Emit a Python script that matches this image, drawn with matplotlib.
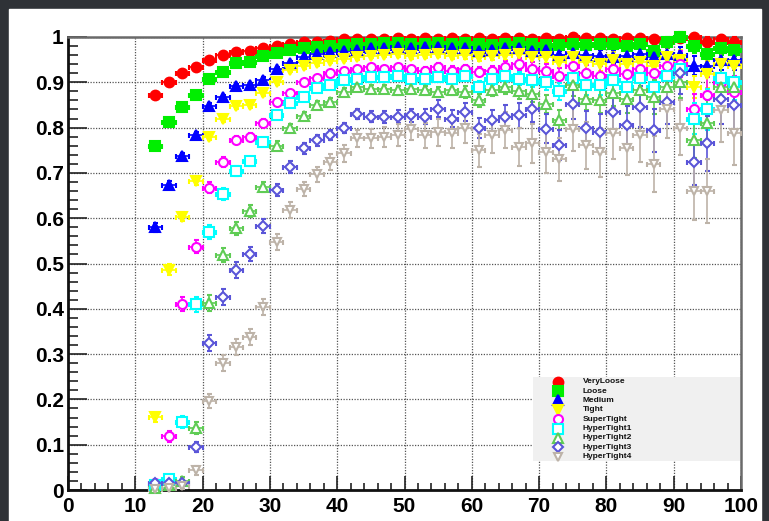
import numpy as np
import matplotlib.pyplot as plt
from matplotlib.patches import Rectangle
from matplotlib.ticker import MultipleLocator

plt.rcParams['font.family'] = ['Liberation Sans', 'DejaVu Sans']
plt.rcParams['font.weight'] = 'bold'

# bin centres, 2 units wide
pt = np.arange(13, 100, 2)

eff_veryloose = [.872, .900, .921, .934, .949, .960, .967, .969, .975, .980, .985,
                 .988, .990, .992, .995, .995, .996, .996, .997, .996, .997, .996,
                 .997, .996, .998, .995, .997, .998, .996, .998, .996, .999, .997,
                 .998, .996, .997, .998, .995, .990, .998, 1.0, .990, .995, .990]
eff_loose = [.759, .812, .846, .872, .907, .923, .943, .945, .958, .965, .972,
             .975, .978, .980, .983, .985, .985, .986, .987, .985, .985, .986,
             .984, .987, .985, .982, .984, .986, .984, .983, .982, .985, .983,
             .985, .984, .980, .985, .970, .988, .999, .980, .962, .975, .972]
eff_medium = [.580, .673, .737, .784, .848, .868, .892, .894, .906, .930, .942,
              .956, .963, .966, .970, .972, .975, .976, .977, .975, .977, .978,
              .976, .975, .970, .972, .975, .975, .970, .972, .960, .965, .960,
              .958, .955, .958, .962, .955, .963, .960, .937, .937, .949, .950]
eff_tight = [.161, .486, .603, .682, .780, .820, .848, .850, .876, .900, .928,
             .935, .942, .948, .952, .955, .958, .960, .962, .958, .960, .962,
             .958, .960, .955, .958, .960, .962, .955, .955, .945, .955, .945,
             .940, .950, .940, .945, .935, .955, .950, .890, .918, .940, .935]
eff_supertight = [.015, .119, .410, .537, .667, .724, .773, .780, .810, .857, .876,
                  .900, .909, .920, .926, .930, .934, .930, .934, .930, .926, .934,
                  .926, .930, .923, .926, .934, .940, .930, .925, .915, .935, .920,
                  .915, .930, .918, .930, .920, .935, .940, .842, .871, .900, .879]
eff_hypertight1 = [.010, .025, .150, .410, .570, .653, .705, .726, .768, .828, .854,
                   .868, .887, .894, .904, .908, .912, .912, .915, .908, .908, .912,
                   .908, .915, .890, .908, .915, .908, .905, .900, .880, .910, .895,
                   .895, .905, .890, .910, .890, .915, .930, .820, .840, .910, .900]
eff_hypertight2 = [.005, .010, .020, .137, .413, .519, .578, .616, .669, .760, .800,
                   .826, .850, .857, .879, .890, .886, .886, .882, .886, .882, .879,
                   .884, .879, .860, .884, .890, .880, .875, .853, .816, .893, .864,
                   .860, .877, .864, .882, .868, .890, .900, .772, .810, .890, .890]
eff_hypertight3 = [.015, .015, .015, .095, .325, .426, .486, .521, .583, .662, .713,
                   .754, .772, .783, .800, .829, .824, .824, .824, .827, .824, .842,
                   .820, .835, .800, .816, .824, .827, .842, .798, .761, .853, .800,
                   .790, .835, .805, .846, .794, .857, .920, .724, .765, .864, .850]
eff_hypertight4 = [.003, .005, .008, .044, .196, .280, .316, .338, .404, .547, .618,
                   .665, .697, .724, .743, .776, .776, .780, .783, .798, .783, .790,
                   .787, .800, .750, .783, .794, .757, .765, .746, .730, .798, .761,
                   .746, .787, .754, .783, .719, .842, .800, .660, .660, .838, .787]

err_veryloose = [.006, .005, .005, .004, .004, .004, .003, .003, .003, .003, .003,
                 .002, .002, .002, .002, .002, .002, .002, .002, .002, .002, .003,
                 .003, .003, .003, .003, .004, .004, .004, .004, .004, .005, .005,
                 .005, .005, .006, .006, .007, .008, .008, .006, .010, .010, .010]
err_loose = [.008, .007, .006, .005, .005, .004, .004, .004, .003, .003, .003,
             .003, .003, .003, .003, .003, .003, .003, .003, .003, .004, .004,
             .004, .004, .005, .005, .005, .006, .006, .006, .007, .007, .008,
             .008, .009, .010, .010, .012, .012, .012, .015, .015, .015, .015]
err_medium = [.010, .009, .008, .007, .006, .005, .005, .005, .005, .004, .004,
              .004, .004, .004, .004, .004, .004, .004, .005, .005, .005, .005,
              .006, .006, .007, .007, .008, .008, .009, .010, .010, .012, .012,
              .013, .014, .015, .016, .018, .020, .018, .020, .025, .022, .022]
err_tight = [.010, .012, .010, .009, .008, .007, .007, .006, .006, .005, .005,
             .005, .005, .005, .005, .005, .005, .005, .006, .006, .006, .007,
             .007, .008, .008, .009, .010, .010, .011, .012, .013, .014, .015,
             .016, .017, .018, .020, .022, .024, .022, .025, .030, .028, .028]
err_supertight = [.005, .012, .015, .014, .012, .010, .009, .008, .008, .007, .007,
                  .006, .006, .006, .006, .006, .006, .007, .007, .007, .008, .008,
                  .009, .009, .010, .011, .012, .013, .014, .015, .016, .018, .019,
                  .020, .022, .024, .026, .028, .030, .028, .032, .040, .035, .035]
err_hypertight1 = [.005, .008, .014, .016, .015, .013, .011, .010, .009, .008, .008,
                   .007, .007, .007, .007, .007, .007, .008, .008, .008, .009, .009,
                   .010, .011, .012, .013, .014, .015, .016, .017, .019, .020, .022,
                   .023, .025, .027, .030, .032, .034, .030, .035, .045, .040, .040]
err_hypertight2 = [.004, .005, .008, .014, .017, .016, .014, .013, .012, .010, .009,
                   .009, .008, .008, .008, .008, .008, .009, .009, .010, .010, .011,
                   .012, .013, .014, .015, .016, .017, .019, .020, .022, .024, .026,
                   .028, .030, .032, .035, .038, .040, .035, .040, .050, .045, .045]
err_hypertight3 = [.005, .005, .006, .012, .018, .018, .017, .016, .015, .014, .013,
                   .012, .012, .011, .011, .011, .012, .013, .014, .015, .016, .018,
                   .019, .020, .022, .023, .025, .027, .029, .031, .033, .035, .037,
                   .039, .041, .043, .045, .048, .050, .045, .050, .060, .055, .055]
err_hypertight4 = [.003, .004, .005, .010, .016, .018, .018, .018, .018, .018, .017,
                   .016, .016, .017, .018, .019, .020, .022, .024, .026, .028, .030,
                   .032, .034, .036, .038, .040, .042, .044, .046, .048, .050, .052,
                   .054, .056, .058, .060, .062, .065, .060, .065, .070, .070, .070]

names = ['VeryLoose', 'Loose', 'Medium', 'Tight', 'SuperTight',
         'HyperTight1', 'HyperTight2', 'HyperTight3', 'HyperTight4']
effs = [eff_veryloose, eff_loose, eff_medium, eff_tight, eff_supertight,
        eff_hypertight1, eff_hypertight2, eff_hypertight3, eff_hypertight4]
errs = [err_veryloose, err_loose, err_medium, err_tight, err_supertight,
        err_hypertight1, err_hypertight2, err_hypertight3, err_hypertight4]
colors = ['#ff0000', '#00ee00', '#0000ff', '#ffff00', '#ff00ff',
          '#00ffff', '#5fcc55', '#5a55d8', '#bdb3a8']
markers = ['o', 's', '^', 'v', 'o', 's', '^', 'D', 'v']
filled = [True, True, True, True, False, False, False, False, False]
sizes = [7, 6.5, 7, 7, 6.5, 6.5, 6.5, 5, 5.5]

fig = plt.figure(figsize=(7.69, 5.21), dpi=100, facecolor='#2f3237')
fig.patches.append(Rectangle((9 / 769, 0), 752 / 769, 1 - 9 / 521,
                             transform=fig.transFigure, color='white', zorder=-5))

ax = fig.add_axes([68 / 769, 31 / 521, 673 / 769, 453 / 521])
ax.set_zorder(5)
ax.set_xlim(0, 100)
ax.set_ylim(0, 1)

for name, y, e, c, m, f, s in zip(names, effs, errs, colors, markers, filled, sizes):
    ax.errorbar(pt, y, xerr=1, yerr=e, fmt=m, color=c, ms=s,
                mfc=c if f else 'white', mec=c, mew=1.5,
                elinewidth=1.2, capsize=1.8, capthick=1.2, clip_on=False, zorder=3)

# axis style
ax.xaxis.set_major_locator(MultipleLocator(10))
ax.xaxis.set_minor_locator(MultipleLocator(2))
ax.yaxis.set_major_locator(MultipleLocator(0.1))
ax.yaxis.set_minor_locator(MultipleLocator(0.02))
ax.set_yticks(np.arange(0, 1.01, 0.1))
ax.set_yticklabels(['0', '0.1', '0.2', '0.3', '0.4', '0.5', '0.6', '0.7', '0.8', '0.9', '1'])
ax.tick_params(axis='both', which='both', direction='in', color='#222', width=1.2,
               top=False, right=False, labelsize=15)
ax.tick_params(axis='y', which='major', length=14, pad=3)
ax.tick_params(axis='y', which='minor', length=7)
ax.tick_params(axis='x', which='major', length=10, pad=5)
ax.tick_params(axis='x', which='minor', length=5)
for lab in ax.get_xticklabels() + ax.get_yticklabels():
    lab.set_fontweight('bold')
ax.grid(True, which='major', color='#555555', lw=0.9, ls=(0, (1, 1.2)), zorder=1)
ax.set_axisbelow(True)

for side in ['left', 'bottom']:
    ax.spines[side].set_linewidth(2)
    ax.spines[side].set_color('#111')
for side in ['top', 'right']:
    ax.spines[side].set_linewidth(1.8)
    ax.spines[side].set_color('#6a6a6a')

# legend box
ax.add_patch(Rectangle((0.691, 0.064), 0.309, 0.186, transform=ax.transAxes,
                       facecolor='#f0f0f0', edgecolor='none', zorder=2))
row0, step = 0.239, 0.0207
for i, (name, c, m, f, s) in enumerate(zip(names, colors, markers, filled, sizes)):
    yy = row0 - i * step
    ax.plot([0.728], [yy], marker=m, ms=s, color=c, mfc=c if f else 'white',
            mec=c, mew=1.5, transform=ax.transAxes, zorder=4)
    ax.text(0.765, yy, name, transform=ax.transAxes, fontsize=6, fontweight='bold',
            va='center', ha='left', color='#111', zorder=4)

fig.savefig('out.png', dpi=100, facecolor=fig.get_facecolor())
